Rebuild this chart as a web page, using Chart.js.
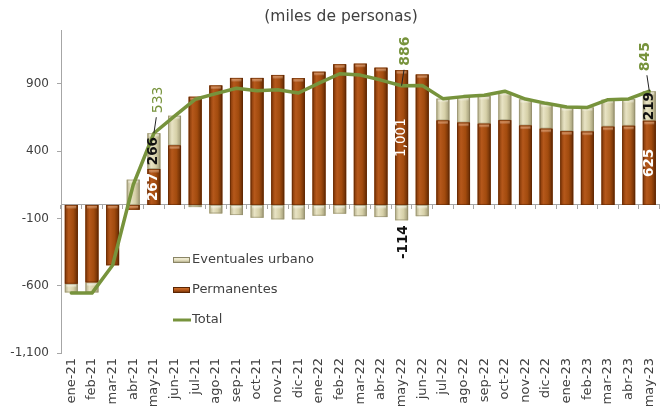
<!DOCTYPE html>
<html>
<head>
<meta charset="utf-8">
<script src="https://cdn.jsdelivr.net/npm/chart.js@4.4.1/dist/chart.umd.min.js"></script>
<style>
html,body{margin:0;padding:0;background:#fff;}
#wrap{width:670px;height:415px;position:relative;}
</style>
</head>
<body>
<div id="wrap"><canvas id="c" width="670" height="415"></canvas></div>
<script>
// ---- data ----
const months = ['ene-21','feb-21','mar-21','abr-21','may-21','jun-21','jul-21','ago-21','sep-21','oct-21','nov-21','dic-21',
                'ene-22','feb-22','mar-22','abr-22','may-22','jun-22','jul-22','ago-22','sep-22','oct-22','nov-22','dic-22',
                'ene-23','feb-23','mar-23','abr-23','may-23'];
const permanentes = [-585,-575,-448,-35,267,442,804,888,944,944,966,942,
                     990,1045,1050,1020,1001,969,628,612,604,630,590,567,
                     548,545,582,588,625];
const eventuales  = [-65,-75,0,188,266,221,-16,-63,-75,-95,-107,-107,
                     -80,-65,-83,-90,-114,-83,162,190,205,210,195,185,
                     178,180,200,198,219];
const total       = [-655,-655,-448,150,533,660,785,827,867,848,856,832,
                     905,975,965,928,886,888,790,805,815,845,787,755,
                     728,725,782,788,845];
const yTicks = [-1100,-600,-100,400,900];
const labeledMonths = [4,16,28];
const titleText = '(miles de personas)';

const FONT = "'DejaVu Sans', sans-serif";
const TXT = '#404040';
const AX = '#a6a6a6';
const fmt = v => Number(v).toLocaleString('en-US');

const styles = {
  perm: {base:'#A04A0A', grad:['#7E3506','#B5581B','#A24B0E','#632902'], cap:'#D9782F', edge:'#5A2503'},
  evt:  {base:'#D8D2AA', grad:['#B2AC86','#E8E3C4','#D6D0A8','#9E9874'], cap:'#F3F0DC', edge:'#8A8566'}
};

const titlePlugin = {
  id:'titleText',
  afterDraw(chart){
    const ctx = chart.ctx;
    ctx.save();
    ctx.font = '15.5px ' + FONT;
    ctx.fillStyle = TXT;
    ctx.textAlign = 'center';
    ctx.textBaseline = 'middle';
    ctx.fillText(titleText, 341, 17);
    ctx.restore();
  }
};

const barLook = {
  id:'barLook',
  afterDatasetDraw(chart, args){
    const ds = chart.data.datasets[args.index];
    if (ds.type !== 'bar') return;
    const st = styles[ds.look];
    const ctx = chart.ctx;
    ctx.save();
    args.meta.data.forEach(el => {
      const {x,y,base,width} = el.getProps(['x','y','base','width'], true);
      const top = Math.min(y,base), bot = Math.max(y,base);
      const h = bot - top;
      if (h < 0.5) return;
      const left = x - width/2;
      const g = ctx.createLinearGradient(left,0,left+width,0);
      g.addColorStop(0, st.grad[0]); g.addColorStop(0.3, st.grad[1]);
      g.addColorStop(0.65, st.grad[2]); g.addColorStop(1, st.grad[3]);
      ctx.fillStyle = g;
      ctx.fillRect(left, top, width, h);
      if (h > 4) {
        const cg = ctx.createLinearGradient(0, top, 0, top+4);
        cg.addColorStop(0, st.cap); cg.addColorStop(1, 'rgba(255,255,255,0)');
        ctx.fillStyle = cg;
        ctx.fillRect(left+1.5, top+0.5, width-3, 4);
      }
      ctx.strokeStyle = st.edge;
      ctx.globalAlpha = 0.55;
      ctx.lineWidth = 1;
      ctx.strokeRect(left+0.5, top+0.5, width-1, h-1);
      ctx.globalAlpha = 1;
    });
    ctx.restore();
  }
};

const legendPlugin = {
  id:'inLegend',
  afterDraw(chart){
    const ctx = chart.ctx;
    const items = [chart.data.datasets[1], chart.data.datasets[0], chart.data.datasets[2]];
    const ys = [260, 290, 320];
    ctx.save();
    ctx.font = '13px ' + FONT;
    ctx.textBaseline = 'middle';
    ctx.textAlign = 'left';
    items.forEach((ds, i) => {
      const y = ys[i];
      if (ds.type === 'bar') {
        const st = styles[ds.look];
        const g = ctx.createLinearGradient(0, y-3, 0, y+3);
        g.addColorStop(0, st.cap); g.addColorStop(0.5, st.grad[1]); g.addColorStop(1, st.grad[3]);
        ctx.fillStyle = g;
        ctx.fillRect(173, y-3, 17, 6);
        ctx.strokeStyle = st.edge; ctx.lineWidth = 1;
        ctx.strokeRect(173.5, y-2.5, 16, 5);
      } else {
        ctx.strokeStyle = ds.borderColor; ctx.lineWidth = 3;
        ctx.beginPath(); ctx.moveTo(173, y); ctx.lineTo(191, y); ctx.stroke();
      }
      ctx.fillStyle = TXT;
      ctx.fillText(ds.label, 192, y);
    });
    ctx.restore();
  }
};

const labelPlugin = {
  id:'valLabels',
  afterDatasetsDraw(chart){
    const ctx = chart.ctx;
    const mP = chart.getDatasetMeta(0), mE = chart.getDatasetMeta(1), mT = chart.getDatasetMeta(2);
    const last = months.length - 1;
    ctx.save();
    const rot = (x, y, text, align, font, color) => {
      ctx.save();
      ctx.translate(x, y);
      ctx.rotate(-Math.PI/2);
      ctx.font = font; ctx.fillStyle = color;
      ctx.textAlign = align; ctx.textBaseline = 'middle';
      ctx.fillText(text, 0, 0);
      ctx.restore();
    };
    labeledMonths.forEach(i => {
      // permanentes
      const p = mP.data[i].getProps(['x','y','base'], true);
      rot(p.x, (p.y+p.base)/2, fmt(permanentes[i]), 'center',
          (permanentes[i] >= 1000 ? '' : 'bold ') + '13.5px ' + FONT, '#ffffff');
      // eventuales
      const e = mE.data[i].getProps(['x','y','base'], true);
      if (eventuales[i] >= 0) {
        rot(e.x, (e.y+e.base)/2, fmt(eventuales[i]), 'center', 'bold 13.5px ' + FONT, '#111111');
      } else {
        rot(e.x + 2, Math.max(e.y, e.base) + 5, fmt(eventuales[i]), 'right', 'bold 13.5px ' + FONT, '#111111');
      }
      // total
      const t = mT.data[i].getProps(['x','y'], true);
      const dx = i === last ? -4 : 4;
      ctx.strokeStyle = '#222'; ctx.lineWidth = 1;
      ctx.beginPath(); ctx.moveTo(t.x, t.y); ctx.lineTo(t.x + dx*0.6, t.y - 16); ctx.stroke();
      rot(t.x + dx, t.y - 20, fmt(total[i]), 'left',
          (i === labeledMonths[0] ? '' : 'bold ') + '14px ' + FONT, '#77933C');
    });
    ctx.restore();
  }
};

new Chart(document.getElementById('c'), {
  data: {
    labels: months,
    datasets: [
      {type:'bar', label:'Permanentes', data: permanentes, look:'perm', backgroundColor: styles.perm.base,
       stack:'s', order:1, barPercentage:0.63, categoryPercentage:1.0},
      {type:'bar', label:'Eventuales urbano', data: eventuales, look:'evt', backgroundColor: styles.evt.base,
       stack:'s', order:1, barPercentage:0.63, categoryPercentage:1.0},
      {type:'line', label:'Total', data: total, borderColor:'#77933C', backgroundColor:'#77933C',
       borderWidth:3.5, pointRadius:0, tension:0, fill:false, stack:'t', order:0,
       borderJoinStyle:'round', borderCapStyle:'round'}
    ]
  },
  options: {
    responsive:false, animation:false, devicePixelRatio:1,
    layout:{padding:{top:30, right:5, left:0, bottom:0}},
    plugins:{legend:{display:false}, tooltip:{enabled:false}, title:{display:false}},
    scales:{
      x:{
        type:'category', position:'bottom', offset:true,
        grid:{display:false, drawTicks:false}, border:{display:false},
        ticks:{minRotation:90, maxRotation:90, autoSkip:false, padding:5,
               font:{family:FONT, size:13}, color:TXT},
        afterFit(s){ s.height = 62; }
      },
      x0:{
        type:'category', position:{y:0}, offset:true,
        grid:{display:true, drawOnChartArea:false, drawTicks:true, tickLength:4, color:AX, offset:true},
        border:{display:true, color:AX, width:1},
        ticks:{display:false}
      },
      y:{
        stacked:true, min:-1100, max:1300,
        afterBuildTicks(s){ s.ticks = yTicks.map(v => ({value:v})); },
        grid:{drawOnChartArea:false, drawTicks:true, tickLength:4, color:AX},
        border:{display:true, color:AX, width:1},
        ticks:{padding:8, font:{family:FONT, size:12}, color:TXT, callback:v => fmt(v)},
        afterFit(s){ s.width = 61; }
      }
    }
  },
  plugins:[barLook, labelPlugin, legendPlugin, titlePlugin]
});
</script>
</body>
</html>
